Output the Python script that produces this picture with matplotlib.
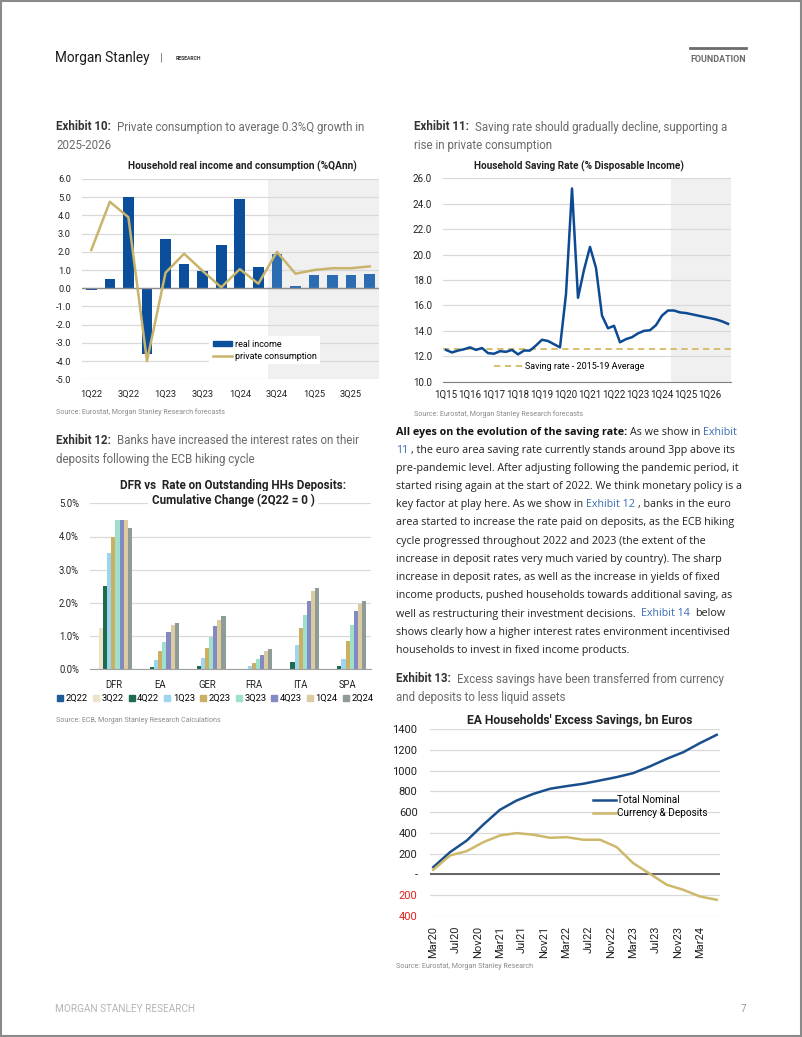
import matplotlib
matplotlib.use('Agg')
import matplotlib.pyplot as plt
import matplotlib.dates as mdates
from matplotlib import font_manager as fm
from matplotlib.patches import Rectangle, Patch
from matplotlib.lines import Line2D
import numpy as np
import pandas as pd

W, H = 802, 1037

# ---------------- DATA ----------------
# Exhibit 10
q_ex10 = ['1Q22', '2Q22', '3Q22', '4Q22', '1Q23', '2Q23', '3Q23', '4Q23',
          '1Q24', '2Q24', '3Q24', '4Q24', '1Q25', '2Q25', '3Q25', '4Q25']
real_income = [-0.1, 0.5, 5.0, -3.6, 2.7, 1.35, 0.95, 2.4,
               4.9, 1.15, 1.9, 0.15, 0.72, 0.75, 0.72, 0.77]
private_consumption = [2.1, 4.75, 3.9, -4.0, 0.85, 1.9, 0.95, 0.05,
                       1.05, 0.25, 2.0, 0.8, 1.0, 1.1, 1.1, 1.2]
forecast_start_ex10 = '3Q24'

# Exhibit 11
q_ex11 = [f"{q}Q{y % 100:02d}" for y in range(2015, 2027) for q in range(1, 5)]
saving_rate = [12.5, 12.3, 12.45, 12.55, 12.7, 12.5, 12.65, 12.25,
               12.2, 12.4, 12.35, 12.5, 12.15, 12.45, 12.45, 12.85,
               13.3, 13.2, 12.95, 12.7, 16.9, 25.2, 16.6, 18.8,
               20.6, 18.95, 15.2, 14.2, 14.4, 13.1, 13.35, 13.5,
               13.8, 14.0, 14.05, 14.45, 15.2, 15.6, 15.6, 15.45,
               15.4, 15.3, 15.2, 15.1, 15.0, 14.9, 14.75, 14.55]
saving_avg_2015_19 = 12.55
forecast_start_ex11 = '3Q24'

# Exhibit 12
countries = ['DFR', 'EA', 'GER', 'FRA', 'ITA', 'SPA']
ex12_series = ['2Q22', '3Q22', '4Q22', '1Q23', '2Q23', '3Q23', '4Q23', '1Q24', '2Q24']
ex12_values = {
    '2Q22': [0.0, 0.0, 0.0, 0.0, 0.0, 0.0],
    '3Q22': [1.25, 0.01, 0.01, 0.0, 0.01, 0.01],
    '4Q22': [2.5, 0.07, 0.10, 0.01, 0.23, 0.09],
    '1Q23': [3.5, 0.29, 0.35, 0.10, 0.72, 0.30],
    '2Q23': [4.0, 0.56, 0.65, 0.20, 1.25, 0.85],
    '3Q23': [4.5, 0.82, 0.98, 0.30, 1.65, 1.33],
    '4Q23': [4.5, 1.12, 1.30, 0.43, 2.05, 1.75],
    '1Q24': [4.5, 1.32, 1.50, 0.56, 2.35, 1.98],
    '2Q24': [4.25, 1.39, 1.60, 0.60, 2.45, 2.06],
}

# Exhibit 13
ex13_dates = ['Mar20', 'Jun20', 'Sep20', 'Dec20', 'Mar21', 'Jun21', 'Sep21', 'Dec21',
              'Mar22', 'Jun22', 'Sep22', 'Dec22', 'Mar23', 'Jun23', 'Sep23', 'Dec23',
              'Mar24', 'Jun24']
total_nominal = [70, 215, 327, 481, 622, 712, 776, 825, 850, 873, 905, 937,
                 975, 1040, 1113, 1177, 1264, 1344]
currency_deposits = [45, 183, 225, 311, 375, 398, 382, 353, 359, 334, 334, 263,
                     109, 6, -99, -148, -212, -244]

# ---------------- FIGURE ----------------
fig = plt.figure(figsize=(W / 100, H / 100), dpi=100)
fig.patch.set_facecolor('white')
renderer = fig.canvas.get_renderer()


def _w(v):
    if isinstance(v, str):
        return fm.weight_dict.get(v, 400)
    return v


names = {f.name for f in fm.fontManager.ttflist}
bold_names = {f.name for f in fm.fontManager.ttflist if _w(f.weight) >= 600}
COND = 'Liberation Sans Narrow' if 'Liberation Sans Narrow' in names else 'Roboto'
BODY = next((n for n in ['Noto Sans', 'Open Sans', 'Lato', 'DejaVu Sans'] if n in bold_names), 'DejaVu Sans')
LIGHT = 'Roboto'


def fx(x):
    return x / W


def fy(y):
    return 1 - y / H


def text_w(s, family, weight, size):
    t = fig.text(0, 0, '|' + s + '|', family=family, weight=weight, fontsize=size)
    w1 = t.get_window_extent(renderer).width
    t.set_text('||')
    w2 = t.get_window_extent(renderer).width
    t.remove()
    return w1 - w2


def fit(s, family, weight, target):
    return 10 * target / text_w(s, family, weight, 10)


def seg_line(x, y, segs, size):
    for s, fam, wt, col in segs:
        lead = s[:len(s) - len(s.lstrip())]
        xd = x + (text_w(lead, fam, wt, size) if lead else 0)
        if s.strip():
            fig.text(fx(xd), fy(y), s.strip(), family=fam, weight=wt, color=col,
                     fontsize=size, va='center', ha='left')
        x += text_w(s, fam, wt, size)


def add_axes_px(left, top, right, bottom):
    return fig.add_axes([fx(left), fy(bottom), (right - left) / W, (bottom - top) / H])


GRID = '#D9D9D9'
TXT = '#222222'

# ---------------- PAGE FRAME / HEADER / FOOTER ----------------
fig.patches.append(Rectangle((0.001, 0.001), 0.998, 0.998, transform=fig.transFigure,
                             fill=False, edgecolor='#8A8A8A', lw=1.5))
s_ms = fit('Morgan Stanley', COND, 'normal', 95)
fig.text(fx(55), fy(58), 'Morgan Stanley', family=COND, fontsize=s_ms, color='#1a1a1a',
         va='center', ha='left')
fig.text(fx(160), fy(58), '|', family=COND, fontsize=s_ms * 0.8, color='#666666',
         va='center', ha='left')
fig.text(fx(176), fy(58.5), 'RESEARCH', family=COND, weight='bold',
         fontsize=fit('RESEARCH', COND, 'bold', 25), color='#333333', va='center', ha='left')
fig.text(fx(746), fy(59), 'FOUNDATION', family=COND, weight='bold',
         fontsize=fit('FOUNDATION', COND, 'bold', 56), color='#6b6b6b', va='center', ha='right')
fig.lines.append(Line2D([fx(690), fx(746)], [fy(48), fy(48)], transform=fig.transFigure,
                        color='#6b6b6b', lw=2))
s_ft = fit('MORGAN STANLEY RESEARCH', LIGHT, 'normal', 138)
fig.text(fx(55), fy(1009), 'MORGAN STANLEY RESEARCH', family=LIGHT, fontsize=s_ft,
         color='#B5B5B5', va='center', ha='left')
fig.text(fx(746), fy(1009), '7', family=LIGHT, fontsize=s_ft, color='#9a9a9a',
         va='center', ha='right')

# ---------------- CAPTIONS ----------------
s_capb = fit('Exhibit 10:', COND, 'bold', 55)
s_cap = fit('Private consumption to average 0.3%Q growth in', LIGHT, 'normal', 249)
s_cap = (s_capb + s_cap) / 2
CAPB = '#333333'
CAPG = '#6a6a6a'


def caption(x, y, num, l1, l2):
    seg_line(x, y, [(f'Exhibit {num}:', COND, 'bold', CAPB), ('  ' + l1, LIGHT, 'normal', CAPG)], s_cap)
    fig.text(fx(x), fy(y + 18), l2, family=LIGHT, weight='normal', color=CAPG,
             fontsize=s_cap, va='center', ha='left')


caption(56, 127, 10, 'Private consumption to average 0.3%Q growth in', '2025-2026')
caption(414, 127, 11, 'Saving rate should gradually decline, supporting a', 'rise in private consumption')
caption(56, 441, 12, 'Banks have increased the interest rates on their', 'deposits following the ECB hiking cycle')
caption(396, 679, 13, 'Excess savings have been transferred from currency', 'and deposits to less liquid assets')

s_src = fit('Source: Eurostat, Morgan Stanley Research forecasts', LIGHT, 'normal', 167)
for x, y, s in [(56, 412, 'Source: Eurostat, Morgan Stanley Research forecasts'),
                (414, 414, 'Source: Eurostat, Morgan Stanley Research forecasts'),
                (56, 720, 'Source: ECB, Morgan Stanley Research Calculations'),
                (396, 966, 'Source: Eurostat, Morgan Stanley Research')]:
    fig.text(fx(x), fy(y), s, family=LIGHT, fontsize=s_src, color='#8a8a8a', va='center', ha='left')

# ---------------- PARAGRAPH ----------------
s_body = fit('started rising again at the start of 2022. We think monetary policy is a', BODY, 'normal', 348)
LINK = '#3A6DB5'
para = [
    [('All eyes on the evolution of the saving rate:', BODY, 'bold', '#111111'),
     (' As we show in ', BODY, 'normal', TXT), ('Exhibit', BODY, 'normal', LINK)],
    [('11', BODY, 'normal', LINK), (' , the euro area saving rate currently stands around 3pp above its', BODY, 'normal', TXT)],
    [('pre-pandemic level. After adjusting following the pandemic period, it', BODY, 'normal', TXT)],
    [('started rising again at the start of 2022. We think monetary policy is a', BODY, 'normal', TXT)],
    [('key factor at play here. As we show in ', BODY, 'normal', TXT), ('Exhibit 12', BODY, 'normal', LINK),
     (' , banks in the euro', BODY, 'normal', TXT)],
    [('area started to increase the rate paid on deposits, as the ECB hiking', BODY, 'normal', TXT)],
    [('cycle progressed throughout 2022 and 2023 (the extent of the', BODY, 'normal', TXT)],
    [('increase in deposit rates very much varied by country). The sharp', BODY, 'normal', TXT)],
    [('increase in deposit rates, as well as the increase in yields of fixed', BODY, 'normal', TXT)],
    [('income products, pushed households towards additional saving, as', BODY, 'normal', TXT)],
    [('well as restructuring their investment decisions.  ', BODY, 'normal', TXT),
     ('Exhibit 14', BODY, 'normal', LINK), ('  below', BODY, 'normal', TXT)],
    [('shows clearly how a higher interest rates environment incentivised', BODY, 'normal', TXT)],
    [('households to invest in fixed income products.', BODY, 'normal', TXT)],
]
for i, segs in enumerate(para):
    seg_line(396, 432 + i * 18.2, segs, s_body)

# ---------------- EXHIBIT 10 ----------------
ax1 = add_axes_px(82, 179, 379, 379.3)
x1 = np.arange(len(q_ex10))
fc1 = q_ex10.index(forecast_start_ex10)
ax1.axvspan(fc1 - 0.5, len(q_ex10) - 0.5, color='#F0F0F0', zorder=0, lw=0)
bar_cols = ['#0B4F9C' if i < fc1 else '#2C6CB3' for i in x1]
ax1.bar(x1, real_income, width=0.57, color=bar_cols, zorder=2)
ax1.plot(x1, private_consumption, color='#C8B46A', lw=1.8, zorder=3)
ax1.axhline(0, color='#8C8C8C', lw=1, zorder=2.5)
ax1.set_xlim(-0.5, len(q_ex10) - 0.5)
ax1.set_ylim(-5, 6)
ax1.set_yticks(np.arange(-5, 7, 1))
ax1.set_yticklabels([f'{v:.1f}' for v in np.arange(-5, 7, 1)])
ax1.set_xticks(x1[::2])
ax1.set_xticklabels(q_ex10[::2])
ax1.set_axisbelow(True)
ax1.grid(axis='y', color=GRID, lw=0.9)
for sp in ax1.spines.values():
    sp.set_visible(False)
s_t1 = fit('1Q22', COND, 'normal', 21.7)
ax1.tick_params(length=0, labelsize=s_t1, labelcolor=TXT, pad=8)
ax1.tick_params(axis='y', pad=8)
for lab in ax1.get_xticklabels() + ax1.get_yticklabels():
    lab.set_family(COND)
s_title = fit('Household real income and consumption (%QAnn)', COND, 'bold', 228)
fig.text(fx(242), fy(166.7), 'Household real income and consumption (%QAnn)', family=COND,
         weight='bold', fontsize=s_title, color=TXT, ha='center', va='center')
s_leg1 = fit('private consumption', COND, 'normal', 82.7)
leg1 = ax1.legend([Patch(color='#0B4F9C'), Line2D([], [], color='#C8B46A', lw=1.8)],
                  ['real income', 'private consumption'], loc='upper left',
                  bbox_to_anchor=(fx(209), fy(336)), bbox_transform=fig.transFigure,
                  prop={'family': COND, 'size': s_leg1}, frameon=True, fancybox=False,
                  edgecolor='none', facecolor='white', framealpha=1, borderaxespad=0,
                  borderpad=0.4, handlelength=2.1, handleheight=0.5, handletextpad=0.35,
                  labelspacing=0.35)

# ---------------- EXHIBIT 11 ----------------
ax2 = add_axes_px(443, 178.3, 731, 381.7)
x2 = np.arange(len(q_ex11))
fc2 = q_ex11.index(forecast_start_ex11)
ax2.axvspan(fc2 - 0.5, len(q_ex11) - 0.5, color='#F0F0F0', zorder=0, lw=0)
ax2.plot(x2, saving_rate, color='#0D4A94', lw=1.8, zorder=3)
ax2.plot([-0.5, len(q_ex11) - 0.5], [saving_avg_2015_19] * 2, color='#D5B865',
         lw=1.3, dashes=(3.5, 2.5), zorder=2.5)
ax2.set_xlim(-0.5, len(q_ex11) - 0.5)
ax2.set_ylim(10, 26)
ax2.set_yticks(np.arange(10, 27, 2))
ax2.set_yticklabels([f'{v:.1f}' for v in np.arange(10, 27, 2)])
ax2.set_xticks(x2[::4])
ax2.set_xticklabels(q_ex11[::4])
ax2.set_axisbelow(True)
ax2.grid(axis='y', color=GRID, lw=0.9)
for k, sp in ax2.spines.items():
    sp.set_visible(k == 'bottom')
ax2.spines['bottom'].set_color('#808080')
s_t2 = fit('1Q15', COND, 'normal', 23)
ax2.tick_params(length=0, labelsize=s_t2, labelcolor=TXT, pad=6)
ax2.tick_params(axis='y', pad=8)
for lab in ax2.get_xticklabels() + ax2.get_yticklabels():
    lab.set_family(COND)
fig.text(fx(579), fy(166.7), 'Household Saving Rate (% Disposable Income)', family=COND,
         weight='bold', fontsize=fit('Household Saving Rate (% Disposable Income)', COND, 'bold', 211),
         color=TXT, ha='center', va='center')
s_leg2 = fit('Saving rate - 2015-19 Average', COND, 'normal', 119)
ax2.legend([Line2D([], [], color='#D5B865', lw=1.3, dashes=(3.5, 2.5))],
           ['Saving rate - 2015-19 Average'], loc='center left',
           bbox_to_anchor=(fx(492), fy(366.7)), bbox_transform=fig.transFigure,
           prop={'family': COND, 'size': s_leg2}, frameon=False, borderaxespad=0,
           borderpad=0.2, handlelength=3.2, handletextpad=0.3)

# ---------------- EXHIBIT 12 ----------------
ax3 = add_axes_px(90, 503.3, 371, 669.3)
cols12 = ['#1F5C99', '#EDE3C8', '#1E6B4F', '#9DD5EE', '#CBB064', '#9EE0CC', '#8289C3', '#DCCB9E', '#8F9B97']
nser = len(ex12_series)
bw = 0.79 / nser
xc = np.arange(len(countries))
for i, s in enumerate(ex12_series):
    ax3.bar(xc - 0.395 + bw * (i + 0.5), np.array(ex12_values[s]) / 100, width=bw,
            color=cols12[i], zorder=2, label=s, lw=0)
ax3.set_xlim(-0.5, len(countries) - 0.5)
ax3.set_ylim(0, 0.05)
ax3.set_yticks(np.arange(0, 0.051, 0.01))
ax3.set_yticklabels([f'{v * 100:.1f}%' for v in np.arange(0, 0.051, 0.01)])
ax3.set_xticks(xc)
ax3.set_xticklabels(countries)
ax3.set_axisbelow(True)
ax3.grid(axis='y', color=GRID, lw=0.9)
for k, sp in ax3.spines.items():
    sp.set_visible(k == 'bottom')
ax3.spines['bottom'].set_color('#A0A0A0')
s_t3 = fit('DFR', COND, 'normal', 17.3)
ax3.tick_params(length=0, labelsize=s_t3, labelcolor=TXT, pad=8)
ax3.tick_params(axis='y', pad=8)
for lab in ax3.get_xticklabels() + ax3.get_yticklabels():
    lab.set_family(COND)
s_tt3 = fit('DFR vs  Rate on Outstanding HHs Deposits:', COND, 'bold', 227)
for yy, s in [(485, 'DFR vs  Rate on Outstanding HHs Deposits:'), (500.7, 'Cumulative Change (2Q22 = 0 )')]:
    fig.text(fx(233), fy(yy), s, family=COND, weight='bold', fontsize=s_tt3, color=TXT,
             ha='center', va='center',
             bbox=dict(facecolor='white', edgecolor='none', pad=2.5))
s_leg3 = fit('2Q22', COND, 'normal', 22)
h3 = [Line2D([], [], marker='s', ls='none', color=c, markersize=4.5) for c in cols12]
ax3.legend(h3, ex12_series, loc='center left', bbox_to_anchor=(fx(58), fy(698.5)),
           bbox_transform=fig.transFigure, ncol=nser, frameon=False,
           prop={'family': COND, 'size': s_leg3}, handlelength=0.5, handletextpad=0.35,
           columnspacing=0.6, borderaxespad=0, borderpad=0)

# ---------------- EXHIBIT 13 ----------------
ax4 = add_axes_px(430, 729, 720, 916)
d4 = pd.to_datetime(ex13_dates, format='%b%y')
ax4.plot(d4, total_nominal, color='#1A4F8E', lw=1.8, zorder=3)
ax4.plot(d4, currency_deposits, color='#CDB86B', lw=1.8, zorder=3)
ax4.axhline(0, color='#595959', lw=1.3, zorder=2)
ax4.set_xlim(d4[0] - pd.Timedelta(days=18), d4[-1] + pd.Timedelta(days=18))
ax4.set_ylim(-400, 1400)
yt = np.arange(-400, 1401, 200)
ax4.set_yticks(yt)
ax4.set_yticklabels(['-' if v == 0 else f'{abs(v)}' for v in yt])
for v, lab in zip(yt, ax4.get_yticklabels()):
    lab.set_color('#E0201B' if v < 0 else TXT)
ax4.xaxis.set_major_locator(mdates.MonthLocator(bymonth=[3, 7, 11]))
ax4.xaxis.set_major_formatter(mdates.DateFormatter('%b%y'))
ax4.set_axisbelow(True)
ax4.grid(axis='y', color=GRID, lw=0.9)
for sp in ax4.spines.values():
    sp.set_visible(False)
s_t4 = fit('1400', COND, 'normal', 25)
ax4.tick_params(length=0, labelsize=s_t4, pad=7)
ax4.tick_params(axis='y', pad=9)
for lab in ax4.get_xticklabels():
    lab.set_rotation(90)
    lab.set_family(COND)
    lab.set_color(TXT)
for lab in ax4.get_yticklabels():
    lab.set_family(COND)
fig.text(fx(580), fy(720.7), "EA Households' Excess Savings, bn Euros", family=COND, weight='bold',
         fontsize=fit("EA Households' Excess Savings, bn Euros", COND, 'bold', 227),
         color=TXT, ha='center', va='center')
s_leg4 = fit('Currency & Deposits', COND, 'normal', 90)
ax4.legend([Line2D([], [], color='#1A4F8E', lw=1.8), Line2D([], [], color='#CDB86B', lw=1.8)],
           ['Total Nominal', 'Currency & Deposits'], loc='upper left',
           bbox_to_anchor=(fx(593), fy(795)), bbox_transform=fig.transFigure,
           prop={'family': COND, 'size': s_leg4}, frameon=False, borderaxespad=0, borderpad=0,
           handlelength=2.3, handletextpad=0.15, labelspacing=0.3)

fig.savefig('out.png', dpi=100, facecolor='white')
